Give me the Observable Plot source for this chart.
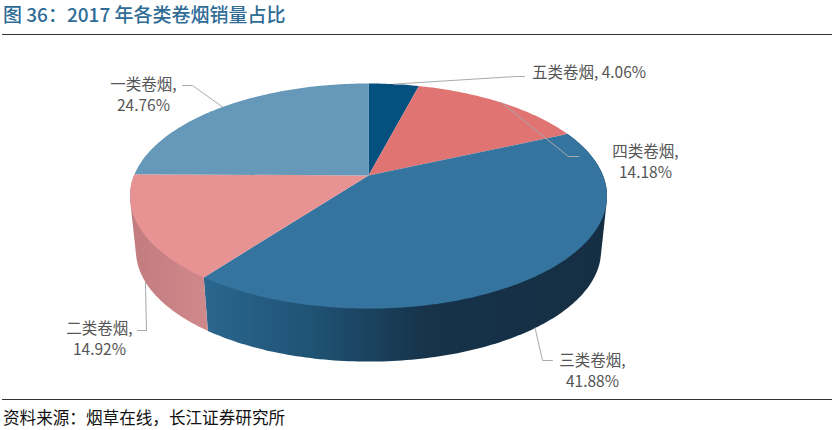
<!DOCTYPE html>
<html><head><meta charset="utf-8">
<script src="https://cdn.jsdelivr.net/npm/d3@7"></script>
<script src="https://cdn.jsdelivr.net/npm/@observablehq/plot@0.6"></script>
<style>
html,body{margin:0;padding:0;background:#fff;width:835px;height:430px;overflow:hidden}
#title{box-sizing:border-box;height:35px;margin:0 3px 0 2px;padding:0 0 0 1px;border-bottom:1.5px solid #333;font:500 19px/28px "Noto Sans CJK SC",sans-serif;color:#2f6c96;white-space:pre}
#chart svg{display:block}
#caption{box-sizing:border-box;margin:0 3px 0 2px;padding:0 0 0 1px;border-top:1.5px solid #333;font:400 16.6px/35px "Noto Sans CJK SC",sans-serif;color:#111;white-space:pre}
</style></head><body>
<div id="title">图 36：2017 年各类卷烟销量占比</div>
<div id="chart"></div>
<div id="caption">资料来源：烟草在线，长江证券研究所</div>
<script>
// Data, clockwise from 12 o'clock
const categories = ["五类卷烟", "四类卷烟", "三类卷烟", "二类卷烟", "一类卷烟"];
const shares = [4.06, 14.18, 41.88, 14.92, 24.76];
const colors = ["#04517f", "#e07473", "#34749f", "#e89393", "#6699b9"];

// Perspective view of the disc
const view = {cx: 368, cy: 175, f: 234.5, g: 108.8, k: 0.1825, depth: 55, baseX: 0.975, baseY: 0.985};
function project(frac, base) {
  const a = frac * 2 * Math.PI, c = Math.cos(a), s = Math.sin(a), d = 1 + view.k * c;
  return {
    x: view.cx + (base ? view.baseX : 1) * view.f * s / d,
    y: view.cy + (base ? view.depth : 0) - (base ? view.baseY : 1) * view.g * c / d
  };
}
function arc(f0, f1, base) {
  const n = Math.max(2, Math.ceil((f1 - f0) * 360));
  return d3.range(n + 1).map(i => project(f0 + (f1 - f0) * i / n, base));
}

// The printed shares add up to 99.8, so the slices are taken as parts of their sum
const total = d3.sum(shares);
const bounds = Array.from(d3.cumsum(shares), v => v / total);
const start = i => (i ? bounds[i - 1] : 0);
const slices = categories.map((name, i) => ({name, share: shares[i], f0: start(i), f1: bounds[i], mid: (start(i) + bounds[i]) / 2}));

const topFaces = slices.flatMap(s => [{x: view.cx, y: view.cy}, ...arc(s.f0, s.f1, false)].map(p => ({...p, name: s.name})));
// Side wall of a slice: the outline around its top arc and its base arc
function wall(s) {
  const pts = [...arc(s.f0, s.f1, false), ...arc(s.f0, s.f1, true)].map(p => [p.x, p.y]);
  return d3.polygonHull(pts).map(([x, y]) => ({x, y}));
}

// Callouts: where the leader turns and where it ends, and where the text sits
const callouts = [
  {i: 0, base: false, elbow: [515, 76], end: [524, 76], tx: 588.5, ty: 71, oneLine: true},
  {i: 1, base: false, elbow: [568, 156], end: [578, 156], tx: 645, ty: 160},
  {i: 2, base: true, elbow: [542, 360], end: [552, 360], tx: 592, ty: 369},
  {i: 3, base: true, elbow: [146, 330], end: [137, 330], tx: 99, ty: 337},
  {i: 4, base: false, elbow: [192, 85], end: [182, 85], tx: 143, ty: 93}
];
const leaders = callouts.flatMap(c => {
  const p = project(slices[c.i].mid, c.base);
  return [p, {x: c.elbow[0], y: c.elbow[1]}, {x: c.end[0], y: c.end[1]}].map(q => ({x: q.x, y: q.y, name: slices[c.i].name}));
});
const labels = callouts.map(c => ({
  x: c.tx, y: c.ty,
  text: `${slices[c.i].name},${c.oneLine ? " " : "\n"}${slices[c.i].share.toFixed(2)}%`
}));

const plot = Plot.plot({
  width: 835, height: 364,
  margin: 0,
  x: {domain: [0, 835], range: [0, 835], axis: null},
  y: {domain: [35, 399], range: [0, 364], axis: null},
  color: {domain: categories, range: colors},
  marks: [
    Plot.line(wall(slices[2]), {x: "x", y: "y", fill: "url(#wallBlue)", stroke: "none"}),
    Plot.line(wall(slices[3]), {x: "x", y: "y", fill: "url(#wallPink)", stroke: "none"}),
    Plot.line(topFaces, {x: "x", y: "y", z: "name", fill: "name", stroke: "none"}),
    Plot.line(leaders, {x: "x", y: "y", z: "name", stroke: "#a9a9a9", strokeWidth: 1}),
    Plot.text(labels, {x: "x", y: "y", text: "text", fontSize: 15.5, lineHeight: 1.36, fill: "#555",
      fontFamily: '"Noto Sans CJK SC", sans-serif', textAnchor: "middle", lineAnchor: "middle"})
  ]
});

// Horizontal shading of the side walls
const NS = "http://www.w3.org/2000/svg";
const defs = document.createElementNS(NS, "defs");
function gradient(id, x1, x2, stops) {
  const g = document.createElementNS(NS, "linearGradient");
  g.setAttribute("id", id);
  g.setAttribute("gradientUnits", "userSpaceOnUse");
  g.setAttribute("x1", x1); g.setAttribute("x2", x2);
  g.setAttribute("y1", 0); g.setAttribute("y2", 0);
  for (const [o, c] of stops) {
    const s = document.createElementNS(NS, "stop");
    s.setAttribute("offset", o); s.setAttribute("stop-color", c);
    g.appendChild(s);
  }
  defs.appendChild(g);
}
gradient("wallBlue", 205, 605, [[0, "#2a668e"], [0.25, "#205476"], [0.55, "#16334a"], [1, "#152e43"]]);
gradient("wallPink", 130, 206, [[0, "#c27c7f"], [1, "#cf898b"]]);
plot.insertBefore(defs, plot.firstChild);
document.getElementById("chart").appendChild(plot);
</script>
</body></html>
